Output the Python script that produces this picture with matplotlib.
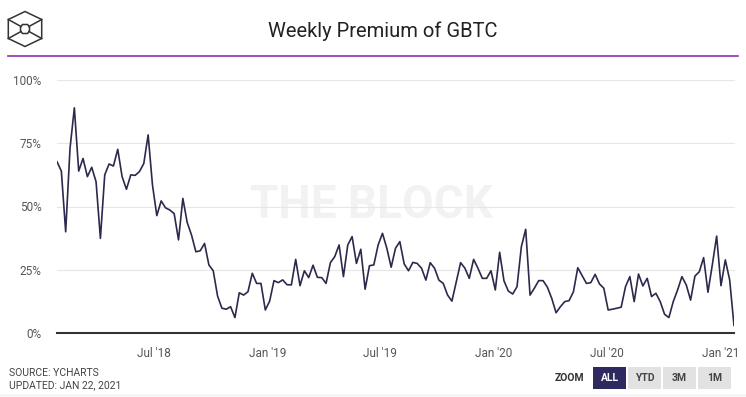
import pandas as pd
import matplotlib
matplotlib.use("Agg")
import matplotlib.pyplot as plt
from matplotlib.patches import Rectangle, Polygon
from matplotlib.lines import Line2D

# weekly GBTC premium (%), Jan 26 2018 -> Jan 22 2021
premium_2018a = [67.7, 64, 40, 73, 89, 64, 69, 61.8, 65.5, 59.8, 37.4, 62.5, 66.8, 66,
                 72.6, 61.8, 56.8, 62.5, 62.3, 63.8, 67, 78.3]
premium_2018b = [58.5, 46.4, 52.2, 49.5, 48.6, 47.2, 36.8, 53.2, 43.7, 38.7, 32.1, 32.5,
                 35.4, 26.9, 24.6, 14.6, 9.8, 9.4, 10.4, 6.1, 15.9, 15, 16.3, 23.6, 19.6, 19.6]
premium_2019a = [9.1, 12.6, 20.7, 19.9, 21, 19.1, 19, 29.1, 18.7, 24.6, 21.9, 26.8, 22,
                 21.9, 19.6, 27.8, 30.2, 34.8, 22.3, 34.8, 38.1, 27.5, 33.1, 17.3, 26.6, 26.9]
premium_2019b = [34.8, 39.4, 33.5, 26, 33.5, 36.1, 27.3, 24.6, 27.9, 27.5, 25.6, 20.9, 27.8,
                 25.6, 20.9, 19.6, 15, 12.6, 20.3, 27.8, 25.6, 21.6, 29.1, 25.6, 21.6, 21.6, 24.6]
premium_2020a = [17, 31.9, 20.6, 16.6, 15.4, 18.3, 34.1, 41, 15, 17.7, 20.7, 20.7, 18.1,
                 13.7, 8, 10.4, 12.4, 12.8, 16.3, 25.8, 22.7, 19.6, 19.9, 23.2, 19.4, 17.7]
premium_2020b = [9.1, 9.4, 9.8, 10.2, 18.3, 22.3, 12.4, 23.3, 18.6, 21.6, 14.4, 15.7, 12.4,
                 7.4, 6.1, 12.4, 17, 22.3, 19, 13, 22.5, 24.2, 29.8, 16.1, 26.9, 38.3, 18.7,
                 28.9, 21, 3]

premium = (premium_2018a + premium_2018b + premium_2019a + premium_2019b
           + premium_2020a + premium_2020b)
dates = pd.date_range("2018-01-26", periods=len(premium), freq="W-FRI")

tick_dates = pd.to_datetime(["2018-07-01", "2019-01-01", "2019-07-01",
                             "2020-01-01", "2020-07-01", "2021-01-01"])
tick_labels = ["Jul '18", "Jan '19", "Jul '19", "Jan '20", "Jul '20", "Jan '21"]
y_ticks = [0, 25, 50, 75, 100]
y_labels = ["0%", "25%", "50%", "75%", "100%"]

W, H = 746, 397
fig = plt.figure(figsize=(W / 100, H / 100), dpi=100)
plt.rcParams["font.family"] = ["Roboto", "DejaVu Sans"]


def fx(px):
    return px / W


def fy(py):
    return 1 - py / H


ax = fig.add_axes([fx(57), fy(333), fx(734) - fx(57), fy(80) - fy(333)])

# watermark
ax.text(0.465, 0.505, "THE BLOCK", transform=ax.transAxes, ha="center", va="center",
        fontsize=33, fontweight="bold", color="#f2f2f2", zorder=0)

ax.plot(dates, premium, color="#2b2a4c", linewidth=1.2, zorder=3)

ax.set_xlim(dates[0], dates[-1])
ax.set_ylim(0, 100)
ax.set_yticks(y_ticks)
ax.set_yticklabels(y_labels)
ax.set_xticks(tick_dates)
ax.set_xticklabels(tick_labels)
ax.tick_params(axis="both", length=0, labelsize=8.5, labelcolor="#555555")
ax.tick_params(axis="y", pad=11)
ax.tick_params(axis="x", pad=10)
for y in y_ticks[1:]:
    ax.axhline(y, color="#e6e6e6", linewidth=0.8, zorder=1, clip_on=False)
for side in ["top", "right", "left"]:
    ax.spines[side].set_visible(False)
ax.spines["bottom"].set_color("#333333")
ax.spines["bottom"].set_linewidth(1.5)

# title and header line
fig.text(fx(383), fy(31), "Weekly Premium of GBTC", ha="center", va="center",
         fontsize=14.5, color="#222222")
fig.add_artist(Line2D([fx(8), fx(738)], [fy(56), fy(56)], color="#8e2bb5",
                      linewidth=1.2, transform=fig.transFigure))

# logo
hex_pts = [(25, 11.5), (41.7, 19.5), (41.7, 38.5), (25, 46.5), (8.3, 38.5), (8.3, 19.5)]
fig.add_artist(Polygon([(fx(x), fy(y)) for x, y in hex_pts], closed=True, fill=False,
                       edgecolor="#333333", linewidth=1.1, transform=fig.transFigure))
inner = [(22.5, 24.5), (27.5, 24.5), (29.5, 27), (29.5, 31), (27.5, 33.5),
         (22.5, 33.5), (20.5, 31), (20.5, 27)]
fig.add_artist(Polygon([(fx(x), fy(y)) for x, y in inner], closed=True, fill=False,
                       edgecolor="#333333", linewidth=1.1, transform=fig.transFigure))
for (x0, y0), (x1, y1) in [((8.3, 19.5), (21, 26.5)), ((41.7, 19.5), (29, 26.5)),
                           ((8.3, 38.5), (21, 31.5)), ((41.7, 38.5), (29, 31.5))]:
    fig.add_artist(Line2D([fx(x0), fx(x1)], [fy(y0), fy(y1)], color="#333333",
                          linewidth=1.1, transform=fig.transFigure))

# footer
fig.text(fx(9), fy(373), "SOURCE: YCHARTS", ha="left", va="center", fontsize=7.5,
         color="#444444")
fig.text(fx(9), fy(385), "UPDATED: JAN 22, 2021", ha="left", va="center", fontsize=7.5,
         color="#444444")
fig.text(fx(584), fy(378), "ZOOM", ha="right", va="center", fontsize=7.5,
         fontweight="bold", color="#333333")
buttons = [("ALL", 593), ("YTD", 628), ("3M", 663), ("1M", 698)]
for i, (label, x0) in enumerate(buttons):
    face = "#2e2a5f" if i == 0 else "#e2e2e2"
    tcol = "white" if i == 0 else "#444444"
    fig.add_artist(Rectangle((fx(x0), fy(389)), fx(33), fy(367) - fy(389),
                             facecolor=face, edgecolor="none", transform=fig.transFigure))
    fig.text(fx(x0 + 16.5), fy(378), label, ha="center", va="center", fontsize=7.5,
             fontweight="bold", color=tcol)
fig.add_artist(Line2D([0, 1], [fy(395), fy(395)], color="#eeeeee", linewidth=1,
                      transform=fig.transFigure))

fig.savefig("out.png", dpi=100)
